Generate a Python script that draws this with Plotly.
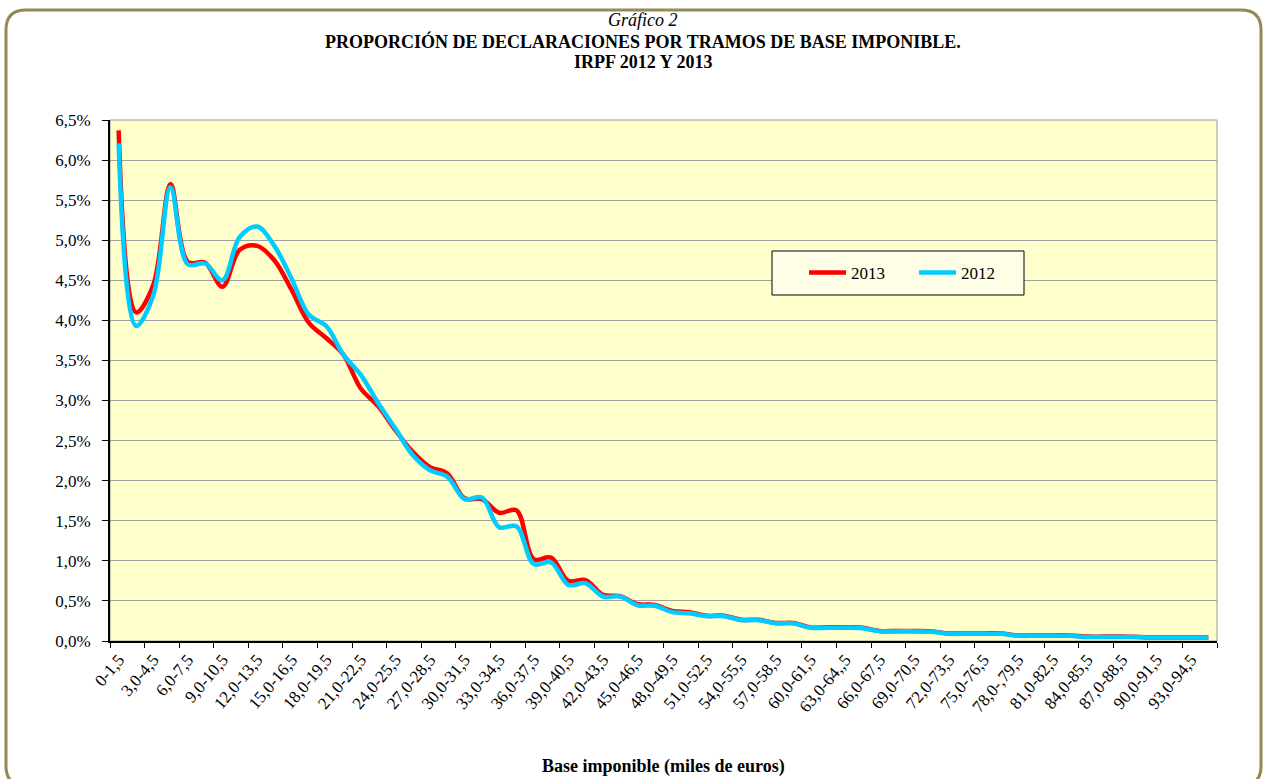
import plotly.graph_objects as go

tramos = [
    "0-1,5", "1,5-3,0", "3,0-4,5", "4,5-6,0", "6,0-7,5", "7,5-9,0", "9,0-10,5", "10,5-12,0",
    "12,0-13,5", "13,5-15,0", "15,0-16,5", "16,5-18,0", "18,0-19,5", "19,5-21,0", "21,0-22,5", "22,5-24,0",
    "24,0-25,5", "25,5-27,0", "27,0-28,5", "28,5-30,0", "30,0-31,5", "31,5-33,0", "33,0-34,5", "34,5-36,0",
    "36,0-37,5", "37,5-39,0", "39,0-40,5", "40,5-42,0", "42,0-43,5", "43,5-45,0", "45,0-46,5", "46,5-48,0",
    "48,0-49,5", "49,5-51,0", "51,0-52,5", "52,5-54,0", "54,0-55,5", "55,5-57,0", "57,0-58,5", "58,5-60,0",
    "60,0-61,5", "61,5-63,0", "63,0-64,,5", "64,5-66,0", "66,0-67,5", "67,5-69,0", "69,0-70,5", "70,5-72,0",
    "72,0-73,5", "73,5-75,0", "75,0-76,5", "76,5-78,0", "78,0-,79,5", "79,5-81,0", "81,0-82,5", "82,5-84,0",
    "84,0-85,5", "85,5-87,0", "87,0-88,5", "88,5-90,0", "90,0-91,5", "91,5-93,0", "93,0-94,5", "94,5-96,0",
]

# porcentaje de declaraciones
irpf_2013 = [
    6.37, 4.10, 4.44, 5.70, 4.73, 4.72, 4.42, 4.88, 4.93, 4.75, 4.38, 3.97, 3.78, 3.57, 3.15, 2.93,
    2.63, 2.36, 2.17, 2.09, 1.78, 1.77, 1.60, 1.63, 1.02, 1.04, 0.75, 0.76, 0.575, 0.56, 0.46, 0.45,
    0.375, 0.36, 0.315, 0.315, 0.265, 0.265, 0.225, 0.225, 0.17, 0.17, 0.17, 0.165, 0.125, 0.125, 0.125, 0.12,
    0.095, 0.095, 0.095, 0.095, 0.07, 0.07, 0.07, 0.07, 0.055, 0.055, 0.055, 0.05, 0.045, 0.045, 0.045, 0.045,
]
irpf_2012 = [
    6.21, 3.93, 4.31, 5.66, 4.70, 4.71, 4.50, 5.04, 5.17, 4.93, 4.52, 4.07, 3.93, 3.57, 3.32, 2.97,
    2.65, 2.32, 2.13, 2.05, 1.77, 1.79, 1.42, 1.43, 0.96, 0.98, 0.70, 0.72, 0.555, 0.555, 0.445, 0.44,
    0.36, 0.345, 0.31, 0.31, 0.26, 0.26, 0.22, 0.22, 0.165, 0.165, 0.165, 0.16, 0.12, 0.12, 0.12, 0.115,
    0.09, 0.09, 0.09, 0.09, 0.065, 0.065, 0.065, 0.065, 0.05, 0.05, 0.05, 0.05, 0.04, 0.04, 0.04, 0.04,
]

W, H = 1264, 779
PL, PR, PT, PB = 110, 1217, 120, 641
FONT = "Liberation Serif"


def px(x):
    return (x - PL) / (PR - PL)


def py(y):
    return (PB - y) / (PB - PT)


fig = go.Figure()
fig.add_trace(go.Scatter(x=tramos, y=irpf_2013, name="2013", mode="lines",
                         line=dict(color="#FF0000", width=4.5, shape="spline", smoothing=1)))
fig.add_trace(go.Scatter(x=tramos, y=irpf_2012, name="2012", mode="lines",
                         line=dict(color="#00CCFF", width=4.5, shape="spline", smoothing=1)))

# marco exterior redondeado
L, R, T, B, r = 6, 1261, 10, 786, 20
pts = [("M", L, T + r), ("Q", L, T), ("", L + r, T), ("L", R - r, T), ("Q", R, T), ("", R, T + r),
       ("L", R, B - r), ("Q", R, B), ("", R - r, B), ("L", L + r, B), ("Q", L, B), ("", L, B - r)]
path = " ".join(f"{c} {px(x):.5f},{py(y):.5f}" for c, x, y in pts) + " Z"
fig.add_shape(type="path", path=path, xref="paper", yref="paper",
              line=dict(color="#948A54", width=3), layer="below")
fig.add_shape(type="rect", xref="paper", yref="paper", x0=0, x1=1, y0=0, y1=1,
              line=dict(color="#999999", width=1), layer="below")
# caja de la leyenda
fig.add_shape(type="rect", xref="paper", yref="paper", x0=px(772), x1=px(1024), y0=py(295), y1=py(251),
              fillcolor="#FFFFE8", line=dict(color="black", width=1))

title_x = px(643)
titles = [("<i>Gráfico 2</i>", 20), ("<b>PROPORCIÓN DE DECLARACIONES POR TRAMOS DE BASE IMPONIBLE.</b>", 41),
          ("<b>IRPF 2012 Y 2013</b>", 62)]
for txt, ypix in titles:
    fig.add_annotation(text=txt, x=title_x, y=py(ypix), xref="paper", yref="paper",
                       xanchor="center", yanchor="middle", showarrow=False,
                       font=dict(family=FONT, size=18, color="black"))
fig.add_annotation(text="<b>Base imponible (miles de euros)</b>", x=px(663), y=py(766),
                   xref="paper", yref="paper", xanchor="center", yanchor="middle", showarrow=False,
                   font=dict(family=FONT, size=18, color="black"))

fig.update_layout(
    width=W, height=H,
    margin=dict(l=PL, r=W - PR, t=PT, b=H - PB),
    paper_bgcolor="white",
    plot_bgcolor="#FFFFCC",
    separators=",.",
    font=dict(family=FONT, size=16, color="black"),
    showlegend=True,
    legend=dict(orientation="h", x=px(804), y=py(273), xanchor="left", yanchor="middle",
                bgcolor="rgba(0,0,0,0)", borderwidth=0,
                font=dict(family=FONT, size=17, color="black"),
                itemwidth=37, entrywidth=58),
    xaxis=dict(type="category", tickson="boundaries", tickmode="linear", dtick=2,
               tickangle=-50, ticks="outside", ticklen=5, tickcolor="black",
               showline=True, linecolor="black", linewidth=2, showgrid=False,
               range=[-0.5, len(tramos) - 0.5],
               tickfont=dict(family=FONT, size=17, color="black")),
    yaxis=dict(range=[0, 6.5], dtick=0.5, tick0=0, tickformat=".1f", ticksuffix="%",
               ticks="outside", ticklen=6, tickcolor="black", ticklabelstandoff=8,
               showline=True, linecolor="black", linewidth=2,
               showgrid=True, gridcolor="#A0A0A0", gridwidth=1, zeroline=False,
               tickfont=dict(family=FONT, size=17, color="black")),
)

fig.write_html("out.html", config={"displayModeBar": False},
               post_script="document.body.style.margin='0px';")
